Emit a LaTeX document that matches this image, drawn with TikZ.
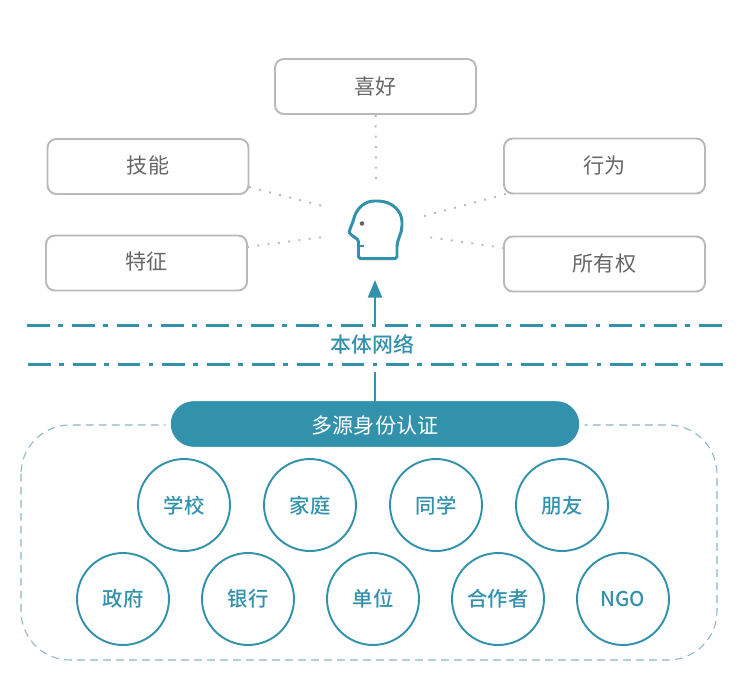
\documentclass[tikz,border=0pt]{standalone}
\usepackage{fontspec}
\setmainfont{Noto Sans CJK SC}
\newfontfamily\cjkmed{Noto Sans CJK SC Medium}
\usetikzlibrary{arrows.meta,shapes.misc}
\definecolor{tealc}{HTML}{3392AB}
\definecolor{boxc}{HTML}{B9B9B9}
\definecolor{textc}{HTML}{666666}
\definecolor{dashc}{HTML}{8DB6C6}
\newcommand{\nudge}[2]{\raisebox{#1}[\height][\depth]{#2}}
\tikzset{
  facet/.style={draw=boxc,line width=1.1pt,rounded corners=5pt,minimum width=4.02cm,minimum height=1.1cm,text=textc,font=\fontsize{12pt}{14pt}\selectfont},
  source/.style={circle,draw=tealc,line width=1.1pt,minimum size=1.84cm,inner sep=0pt,text=tealc,font=\cjkmed\fontsize{11.6pt}{14pt}\selectfont},
  hint/.style={draw=boxc,line width=1.1pt,dash pattern=on 1.1pt off 4.8pt},
  band/.style={draw=tealc,line width=1.5pt,dash pattern=on 13pt off 4.6pt on 2.8pt off 5.1pt}
}
\begin{document}
\begin{tikzpicture}[x=0.02cm,y=-0.02cm]
  \useasboundingbox (0,0) rectangle (748,684);
  % outer frame
  \draw[draw=dashc,line width=0.6pt,dash pattern=on 4.4pt off 3pt,rounded corners=0.98cm] (21,425) rectangle (717,660);
  % top boxes
  \node[facet] (likes) at (375.5,86.5) {喜好};
  \node[facet] (skill) at (148,166.5) {\nudge{0.5pt}{技能}};
  \node[facet] (trait) at (146.5,263) {\nudge{1pt}{特征}};
  \node[facet] (act) at (604.5,166) {\nudge{0.5pt}{行为}};
  \node[facet] (own) at (604.5,264) {\nudge{0.5pt}{所有权}};
  \coordinate (likesT) at (376,182);
  \coordinate (skillT) at (323,206); \coordinate (skillS) at (249,187);
  \coordinate (traitT) at (323,237); \coordinate (traitS) at (247,247);
  \coordinate (actT) at (424,216); \coordinate (actS) at (506,194);
  \coordinate (ownT) at (428,237); \coordinate (ownS) at (504,248);
  \draw[hint] (likes) -- (likesT);
  \draw[hint] (skillS) -- (skillT);
  \draw[hint] (traitS) -- (traitT);
  \draw[hint] (actS) -- (actT);
  \draw[hint] (ownS) -- (ownT);
  % head
  \draw[tealc,line width=1.7pt,line join=round,rounded corners=1pt] (358.5,258.5) -- (358.5,240) -- (350,234)
    .. controls (349,232) and (351,226) .. (353,222)
    .. controls (356,208) and (365,201) .. (376,201)
    .. controls (392,201) and (402,211) .. (402,224)
    .. controls (402,233) and (397,240) .. (397,248) -- (397,258.5) -- cycle;
  \draw[tealc,line width=1.2pt] (359,246) -- (364,246);
  \fill[textc] (362,223.5) circle (1.3pt);
  % band and arrow
  \draw[band] (27,325.5) -- (723,325.5);
  \draw[band] (28,364.5) -- (723,364.5);
  \node[fill=white,inner xsep=2pt,minimum height=0.72cm,text=tealc,font=\cjkmed\fontsize{11.9pt}{14pt}\selectfont] (onto) at (372.5,344.5) {本体网络};
  \node[fill=tealc,draw=white,line width=3pt,outer sep=-2pt,rounded rectangle,minimum width=8.28cm,minimum height=1.02cm,inner sep=0pt,text=white,font=\fontsize{12pt}{14pt}\selectfont] (auth) at (375,424) {\nudge{-0.8pt}{多源身份认证}};
  \coordinate (headB) at (375,280);
  \coordinate (ontoB) at (375,372); \coordinate (ontoT) at (375,327);
  \draw[tealc,line width=1pt] (auth.north) -- (ontoB);
  \draw[tealc,line width=1pt,-{Triangle[length=10pt,width=8pt]}] (ontoT) -- (headB);
  % sources
  \foreach \x/\name/\lab in {184/school/学校,310/home/家庭,436/peer/同学,562/friend/朋友}
    \node[source] (\name) at (\x,505) {\nudge{-0.6pt}{\lab}};
  \foreach \x/\name/\lab in {123/gov/政府,248/bank/银行,373/unit/单位,498/partner/合作者,623/ngo/NGO}
    \node[source] (\name) at (\x,599) {\lab};
\end{tikzpicture}
\end{document}
